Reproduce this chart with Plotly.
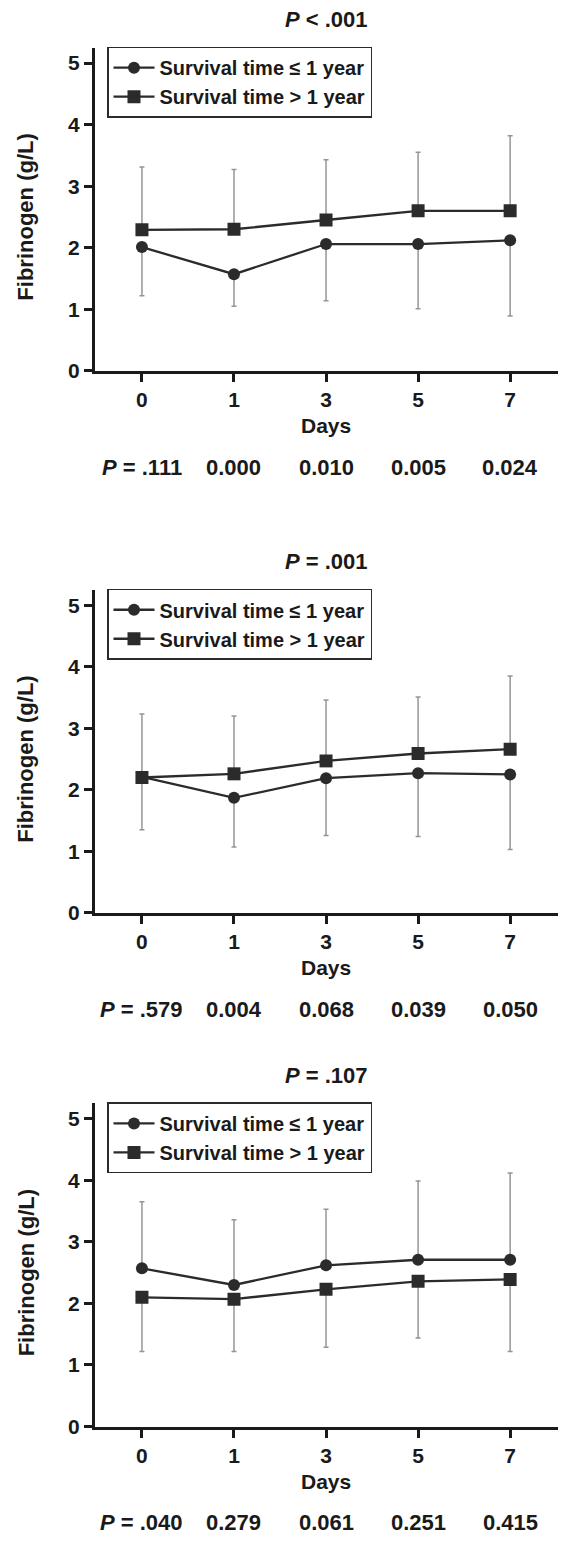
import plotly.graph_objects as go

# ---------------- data ----------------
days = ["0", "1", "3", "5", "7"]

titles = ["<i>P</i> < .001", "<i>P</i> = .001", "<i>P</i> = .107"]

# Survival time <= 1 year (circles)
le_mean_a = [2.01, 1.57, 2.06, 2.06, 2.12]
le_sd_a = [0.79, 0.52, 0.92, 1.05, 1.23]
le_mean_b = [2.21, 1.87, 2.19, 2.27, 2.25]
le_sd_b = [0.86, 0.80, 0.93, 1.03, 1.22]
le_mean_c = [2.57, 2.30, 2.62, 2.71, 2.71]
le_sd_c = [1.08, 1.06, 0.91, 1.28, 1.41]

# Survival time > 1 year (squares)
gt_mean_a = [2.29, 2.30, 2.45, 2.60, 2.60]
gt_sd_a = [1.02, 0.97, 0.98, 0.95, 1.22]
gt_mean_b = [2.20, 2.26, 2.47, 2.59, 2.66]
gt_sd_b = [1.03, 0.94, 0.99, 0.92, 1.19]
gt_mean_c = [2.10, 2.07, 2.23, 2.36, 2.39]
gt_sd_c = [0.88, 0.85, 0.94, 0.92, 1.17]

pvals_a = ["<i>P</i> = .111", "0.000", "0.010", "0.005", "0.024"]
pvals_b = ["<i>P</i> = .579", "0.004", "0.068", "0.039", "0.050"]
pvals_c = ["<i>P</i> = .040", "0.279", "0.061", "0.251", "0.415"]

yticks = [0, 1, 2, 3, 4, 5]

# ---------------- layout constants ----------------
W, H = 561, 1543
FONT = "Liberation Sans, Arial, sans-serif"
DARK = "#2b2b2b"
AX = "#1a1a1a"
ERR = "#959595"
Y0_PX = [373.5, 919.5, 1436.8]   # pixel row of y = 0 for each panel
PX_PER_UNIT = 62.0
YMAX = 5.25
XL, XR = 95, 558

panels = [
    (le_mean_a, le_sd_a, "down", gt_mean_a, gt_sd_a, "up", pvals_a),
    (le_mean_b, le_sd_b, "down", gt_mean_b, gt_sd_b, "up", pvals_b),
    (le_mean_c, le_sd_c, "up", gt_mean_c, gt_sd_c, "down", pvals_c),
]

def py(p):
    return 1 - p / H

fig = go.Figure()
annotations = []
layout_axes = {}
mid = days.index("3")

for i, (lem, les, led, gtm, gts, gtd, pv) in enumerate(panels):
    k = "" if i == 0 else str(i + 1)
    xa, ya = "x" + k, "y" + k
    leg = "legend" + k
    y0 = Y0_PX[i]
    ytop = y0 - YMAX * PX_PER_UNIT

    def err(sd, d):
        zeros = [0] * len(sd)
        return dict(type="data", symmetric=False,
                    array=sd if d == "up" else zeros,
                    arrayminus=sd if d == "down" else zeros,
                    color=ERR, thickness=1.5, width=2.5)

    fig.add_trace(go.Scatter(
        x=days, y=lem, xaxis=xa, yaxis=ya, legend=leg,
        name="Survival time ≤ 1 year", mode="lines+markers",
        line=dict(color=DARK, width=2.3),
        marker=dict(symbol="circle", size=12, color=DARK),
        error_y=err(les, led)))
    fig.add_trace(go.Scatter(
        x=days, y=gtm, xaxis=xa, yaxis=ya, legend=leg,
        name="Survival time > 1 year", mode="lines+markers",
        line=dict(color=DARK, width=2.3),
        marker=dict(symbol="square", size=13, color=DARK),
        error_y=err(gts, gtd)))

    layout_axes["xaxis" + k] = dict(
        domain=[XL / W, XR / W], type="category", categoryorder="array",
        categoryarray=days, range=[-0.51, 4.52], anchor=ya,
        showline=True, linecolor=AX, linewidth=3, ticks="outside",
        ticklen=8, tickwidth=3, tickcolor=AX, showgrid=False, zeroline=False,
        tickfont=dict(family=FONT, size=21, color=AX, weight="bold"),
        fixedrange=True)
    layout_axes["yaxis" + k] = dict(
        domain=[py(y0), py(ytop)], range=[0, YMAX], anchor=xa,
        tickvals=yticks, showline=True, linecolor=AX, linewidth=3,
        ticks="outside", ticklen=8, tickwidth=3, tickcolor=AX,
        showgrid=False, zeroline=False,
        tickfont=dict(family=FONT, size=21, color=AX, weight="bold"),
        fixedrange=True)
    layout_axes[leg] = dict(
        x=107 / W, y=py(ytop - 1), xanchor="left", yanchor="top",
        bgcolor="white", bordercolor=DARK, borderwidth=1.5,
        font=dict(family=FONT, size=20, color=AX, weight="bold"),
        itemwidth=41, tracegroupgap=0)

    # panel title
    annotations.append(dict(
        text="<b>" + titles[i] + "</b>", xref=xa, x=mid, yref="paper",
        y=py(y0 - 354), yanchor="middle", xanchor="center", showarrow=False,
        font=dict(family=FONT, size=22, color=AX)))
    # y-axis title
    annotations.append(dict(
        text="<b>Fibrinogen (g/L)</b>", xref="paper", x=26 / W, yref="paper",
        y=py(y0 - 154.3), textangle=-90, xanchor="center", yanchor="middle",
        showarrow=False, font=dict(family=FONT, size=22, color=AX)))
    # x-axis title
    annotations.append(dict(
        text="<b>Days</b>", xref=xa, x=mid, yref="paper", y=py(y0 + 55),
        xanchor="center", yanchor="middle", showarrow=False,
        font=dict(family=FONT, size=21, color=AX)))
    # p-value row
    for j, t in enumerate(pv):
        annotations.append(dict(
            text="<b>" + t + "</b>", xref=xa, x=j, yref="paper",
            y=py(y0 + 97), xanchor="center", yanchor="middle",
            showarrow=False, font=dict(family=FONT, size=22, color=AX)))

fig.update_layout(
    width=W, height=H, autosize=False,
    margin=dict(l=0, r=0, t=0, b=0),
    paper_bgcolor="white", plot_bgcolor="white",
    showlegend=True, annotations=annotations,
    **layout_axes)

fig.write_html("out.html")
